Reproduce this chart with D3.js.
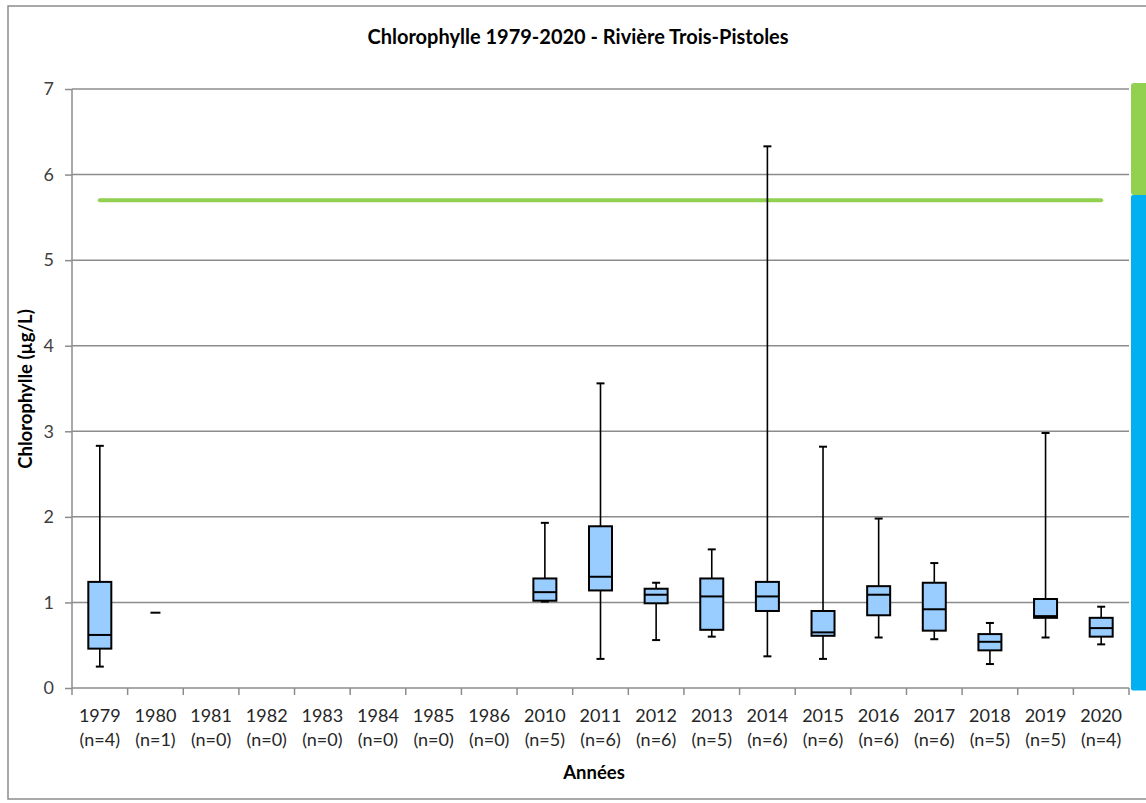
<!DOCTYPE html>
<html><head><meta charset="utf-8">
<script src="https://cdn.jsdelivr.net/npm/d3@7"></script>
<style>body{margin:0;background:#fff;} svg{display:block;font-family:Lato,"Open Sans",sans-serif;}</style>
</head><body>
<svg id="c" width="1146" height="803"></svg>
<script>
const years = ["1979","1980","1981","1982","1983","1984","1985","1986","2010","2011","2012","2013","2014","2015","2016","2017","2018","2019","2020"];
const counts = [4,1,0,0,0,0,0,0,5,6,6,5,6,6,6,6,5,5,4];
const whiskerMin = [0.25,0.88,null,null,null,null,null,null,1.01,0.34,0.56,0.60,0.37,0.34,0.59,0.57,0.28,0.59,0.51];
const q1 =         [0.46,0.88,null,null,null,null,null,null,1.02,1.14,0.99,0.68,0.90,0.61,0.85,0.67,0.44,0.82,0.60];
const median =     [0.62,0.88,null,null,null,null,null,null,1.12,1.30,1.09,1.07,1.07,0.65,1.09,0.92,0.54,0.84,0.70];
const q3 =         [1.24,0.88,null,null,null,null,null,null,1.28,1.89,1.16,1.28,1.24,0.90,1.19,1.23,0.63,1.04,0.82];
const whiskerMax = [2.83,0.88,null,null,null,null,null,null,1.93,3.56,1.23,1.62,6.33,2.82,1.98,1.46,0.76,2.98,0.95];
const yTicks = [0,1,2,3,4,5,6,7];
const criterion = 5.7;
const bandGreen = [5.76, 7.07];
const bandBlue = [-0.03, 5.76];

const svg = d3.select("#c");
const L = 72, R = 1129, T = 89, B = 688;
const x = d3.scaleBand().domain(years).range([L, R]).padding(0);
const y = d3.scaleLinear().domain([0, 7]).range([B, T]);

// outer border
svg.append("rect").attr("x", 8).attr("y", 6).attr("width", 1160).attr("height", 793)
  .attr("fill", "none").attr("stroke", "#8c8c8c").attr("stroke-width", 1.5);

// gridlines
svg.append("g").selectAll("line").data(yTicks.filter(d => d > 0)).join("line")
  .attr("x1", L).attr("x2", R).attr("y1", d => y(d)).attr("y2", d => y(d))
  .attr("stroke", "#8c8c8c").attr("stroke-width", 1.5);

// y axis
const ya = svg.append("g").attr("transform", `translate(${L},0)`)
  .call(d3.axisLeft(y).tickValues(yTicks).tickSize(7).tickPadding(11).tickFormat(d3.format("d")));
ya.select(".domain").attr("stroke", "#8c8c8c").attr("stroke-width", 1.5).attr("d", `M0,${B}V${T}`);
ya.selectAll(".tick line").attr("stroke", "#8c8c8c").attr("stroke-width", 1.5);
ya.selectAll(".tick text").attr("font-size", 18).attr("fill", "#404040").attr("font-family", "Lato,sans-serif");

// x axis
const xa = svg.append("g").attr("transform", `translate(0,${B})`)
  .call(d3.axisBottom(x).tickSize(0).tickFormat(""));
xa.select(".domain").attr("stroke", "#8c8c8c").attr("stroke-width", 1.5).attr("d", `M${L},0H${R}`);
const xt = [L].concat(years.map(d => x(d) + x.bandwidth()));
xa.selectAll(".xt").data(xt).join("line").attr("class", "xt")
  .attr("x1", d => d).attr("x2", d => d).attr("y1", 0).attr("y2", 7)
  .attr("stroke", "#8c8c8c").attr("stroke-width", 1.5);
const lab = svg.append("g").selectAll("text").data(years).join("text")
  .attr("x", d => x(d) + x.bandwidth() / 2).attr("text-anchor", "middle")
  .attr("font-size", 18).attr("fill", "#262626");
lab.append("tspan").attr("x", d => x(d) + x.bandwidth() / 2).attr("y", 722).text(d => d);
lab.append("tspan").attr("x", d => x(d) + x.bandwidth() / 2).attr("y", 746).text((d, i) => `(n=${counts[i]})`);

// side band
svg.append("rect").attr("x", 1131).attr("y", y(bandBlue[1])).attr("width", 18)
  .attr("height", y(bandBlue[0]) - y(bandBlue[1])).attr("fill", "#00B0F0").attr("rx", 2);
svg.append("rect").attr("x", 1131).attr("y", y(bandGreen[1])).attr("width", 18)
  .attr("height", y(bandGreen[0]) - y(bandGreen[1])).attr("fill", "#92D050").attr("rx", 3);

// criterion line
svg.append("line").attr("x1", x("1979") + x.bandwidth() / 2).attr("x2", x("2020") + x.bandwidth() / 2)
  .attr("y1", y(criterion)).attr("y2", y(criterion))
  .attr("stroke", "#92D050").attr("stroke-width", 4).attr("stroke-linecap", "round");

// boxes
const idx = d3.range(years.length).filter(i => counts[i] > 0);
const g = svg.append("g");
const bw = 23, cw = 8;
idx.forEach(i => {
  const cx = x(years[i]) + x.bandwidth() / 2;
  if (counts[i] === 1) {
    g.append("line").attr("x1", cx - 5).attr("x2", cx + 5).attr("y1", y(median[i])).attr("y2", y(median[i]))
      .attr("stroke", "#000").attr("stroke-width", 2);
    return;
  }
  g.append("line").attr("x1", cx).attr("x2", cx).attr("y1", y(whiskerMin[i])).attr("y2", y(whiskerMax[i]))
    .attr("stroke", "#000").attr("stroke-width", 1.6);
  [whiskerMin[i], whiskerMax[i]].forEach(v => g.append("line")
    .attr("x1", cx - cw / 2).attr("x2", cx + cw / 2).attr("y1", y(v)).attr("y2", y(v))
    .attr("stroke", "#000").attr("stroke-width", 2));
  g.append("rect").attr("x", cx - bw / 2).attr("y", y(q3[i])).attr("width", bw)
    .attr("height", y(q1[i]) - y(q3[i])).attr("fill", "#99CCFF").attr("stroke", "#000").attr("stroke-width", 2);
  g.append("line").attr("x1", cx - bw / 2).attr("x2", cx + bw / 2).attr("y1", y(median[i])).attr("y2", y(median[i]))
    .attr("stroke", "#000").attr("stroke-width", 2);
});

// titles
svg.append("text").attr("x", 578).attr("y", 44).attr("text-anchor", "middle")
  .attr("font-size", 20).attr("font-weight", "bold").attr("fill", "#000")
  .text("Chlorophylle 1979-2020 - Rivière Trois-Pistoles");
svg.append("text").attr("transform", "translate(32,389) rotate(-90)").attr("text-anchor", "middle")
  .attr("font-size", 18.5).attr("font-weight", "bold").attr("fill", "#000")
  .text("Chlorophylle (µg/L)");
svg.append("text").attr("x", 594).attr("y", 779).attr("text-anchor", "middle")
  .attr("font-size", 18.5).attr("font-weight", "bold").attr("fill", "#000")
  .text("Années");
</script>
</body></html>
